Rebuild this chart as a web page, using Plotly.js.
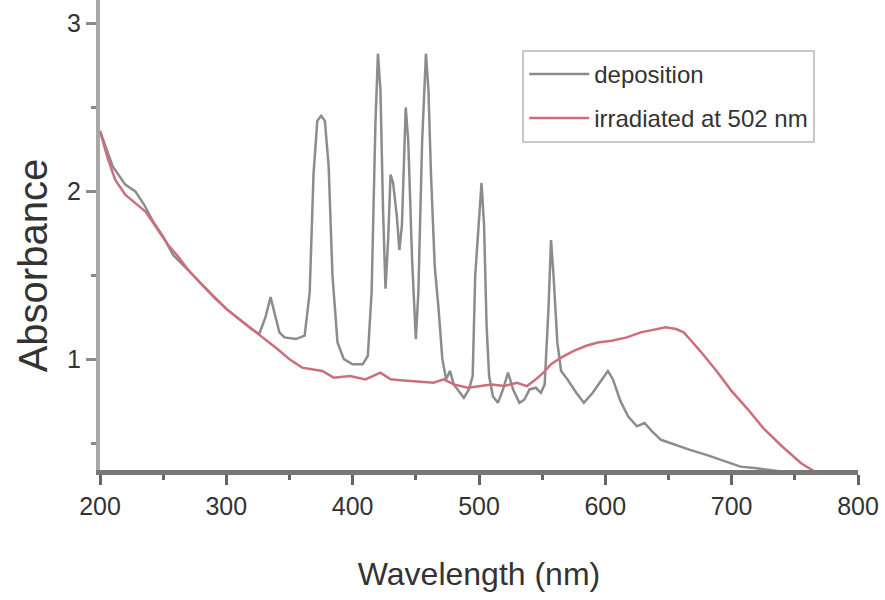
<!DOCTYPE html>
<html>
<head>
<meta charset="utf-8">
<script src="https://cdn.plot.ly/plotly-3.0.1.min.js"></script>
<style>
  html, body { margin: 0; padding: 0; background: #fff; }
  #chart { width: 885px; height: 600px; }
</style>
</head>
<body>
<div id="chart"></div>
<script>
// deposition spectrum (gray)
const depWavelength = [200,210,220,228,235,242,250,258,270,280,290,300,310,320,326,331,335,338,342,346,355,362,366,369,372,375,378,381,384,388,393,400,408,412,415,418,420,422,424,426,428,430,432,435,437,439,442,444,447,450,452,455,458,460,462,465,468,471,474,477,480,485,488,492,495,497,500,502,504,506,508,511,515,519,523,527,532,536,540,545,549,552,555,557,559,562,565,570,577,583,590,597,602,606,612,618,625,631,637,644,655,667,680,691,700,707,720,731,740,760];
const depAbsorbance = [2.36,2.15,2.04,2.00,1.92,1.82,1.73,1.62,1.53,1.45,1.37,1.30,1.24,1.18,1.15,1.25,1.37,1.28,1.16,1.13,1.12,1.14,1.40,2.10,2.42,2.45,2.42,2.15,1.50,1.10,1.00,0.97,0.97,1.02,1.40,2.40,2.82,2.60,1.90,1.42,1.70,2.10,2.05,1.85,1.65,1.80,2.50,2.30,1.60,1.12,1.40,2.30,2.82,2.60,2.10,1.55,1.30,1.00,0.88,0.93,0.85,0.80,0.77,0.82,0.90,1.50,1.80,2.05,1.80,1.20,0.90,0.78,0.74,0.82,0.92,0.82,0.74,0.76,0.82,0.83,0.80,0.85,1.30,1.71,1.50,1.10,0.93,0.88,0.80,0.74,0.80,0.88,0.93,0.88,0.75,0.66,0.60,0.62,0.57,0.52,0.49,0.46,0.43,0.40,0.38,0.36,0.35,0.34,0.33,0.30];

// irradiated at 502 nm (red)
const irrWavelength = [200,206,212,220,228,236,245,254,262,270,280,289,300,315,327,339,350,360,376,385,398,410,422,430,438,450,464,472,480,491,500,510,520,530,538,545,551,557,565,575,585,594,605,617,628,640,648,656,662,668,675,688,700,713,725,740,755,768,775];
const irrAbsorbance = [2.36,2.20,2.07,1.98,1.93,1.88,1.78,1.68,1.61,1.53,1.45,1.38,1.30,1.21,1.14,1.07,1.00,0.95,0.93,0.89,0.90,0.88,0.92,0.88,0.875,0.87,0.86,0.88,0.85,0.83,0.84,0.85,0.84,0.86,0.84,0.88,0.92,0.97,1.01,1.05,1.08,1.10,1.11,1.13,1.16,1.18,1.19,1.18,1.16,1.11,1.05,0.93,0.81,0.70,0.59,0.48,0.38,0.32,0.29];

const seriesNames = ['deposition', 'irradiated at 502 nm'];
const xTickVals = [200,300,400,500,600,700,800];
const yTickVals = [1,2,3];

const traces = [
  {x: depWavelength, y: depAbsorbance, name: seriesNames[0], legendgroup: 'a', type: 'scatter', mode: 'lines',
   line: {color: '#8c8c8c', width: 2.5}},
  {x: irrWavelength, y: irrAbsorbance, name: seriesNames[1], legendgroup: 'b', type: 'scatter', mode: 'lines',
   line: {color: '#cc6f7c', width: 2.5}}
];

const font = 'Liberation Sans, Arial, sans-serif';
const layout = {
  width: 885, height: 600,
  margin: {l: 100, r: 27, t: 0, b: 130},
  paper_bgcolor: '#fff', plot_bgcolor: '#fff',
  showlegend: true,
  legend: {x: 0.557, y: 0.894, xanchor: 'left', yanchor: 'top',
    bordercolor: '#c8c8c8', borderwidth: 2, bgcolor: 'rgba(255,255,255,0)',
    font: {family: font, size: 24, color: '#333'}, tracegroupgap: 10, itemwidth: 60},
  xaxis: {range: [200, 800], tickvals: xTickVals, showgrid: false, zeroline: false,
    showline: true, linecolor: '#777', linewidth: 5,
    ticks: 'outside', ticklen: 10, tickwidth: 3, tickcolor: '#666',
    minor: {dtick: 50, tick0: 0, ticks: 'outside', ticklen: 5, tickwidth: 3, tickcolor: '#666', showgrid: false},
    tickfont: {family: font, size: 25, color: '#333'},
    title: {text: 'Wavelength (nm)', font: {family: font, size: 32, color: '#333'}, standoff: 45}},
  yaxis: {range: [0.34, 3.14], tickvals: yTickVals, showgrid: false, zeroline: false,
    showline: true, linecolor: '#a8a8a8', linewidth: 4,
    ticks: 'outside', ticklen: 10, tickwidth: 3, tickcolor: '#888',
    minor: {dtick: 0.5, tick0: 0, ticks: 'outside', ticklen: 5, tickwidth: 3, tickcolor: '#888', showgrid: false},
    tickfont: {family: font, size: 25, color: '#333'}},
  annotations: [{text: 'Absorbance', textangle: -90, xref: 'paper', yref: 'paper',
    x: -0.088, y: 0.434, xanchor: 'center', yanchor: 'middle', showarrow: false,
    font: {family: font, size: 40, color: '#333'}}]
};

Plotly.newPlot('chart', traces, layout, {displayModeBar: false, staticPlot: true});
</script>
</body>
</html>
